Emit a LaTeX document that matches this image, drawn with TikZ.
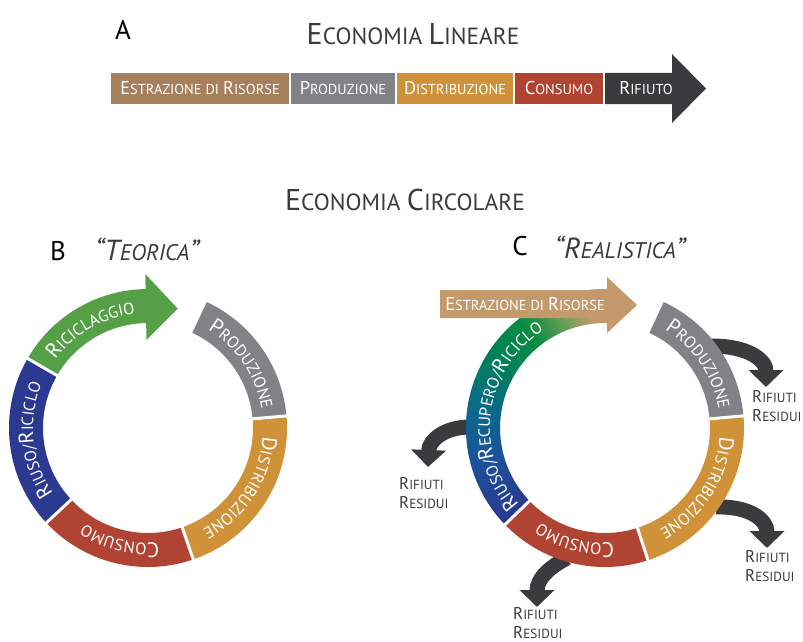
\documentclass[tikz,border=0pt]{standalone}
\usepackage{fontspec}
\setmainfont{PT Sans}
\usetikzlibrary{arrows.meta,decorations.text}

% palette
\definecolor{tanA}{RGB}{166,127,92}
\definecolor{tanC}{RGB}{196,154,108}
\definecolor{prodgrey}{RGB}{128,130,133}
\definecolor{distorange}{RGB}{208,146,56}
\definecolor{consred}{RGB}{176,67,50}
\definecolor{wastedark}{RGB}{59,59,61}
\definecolor{recgreen}{RGB}{85,160,70}
\definecolor{reuseblue}{RGB}{43,57,144}
\definecolor{titlegrey}{RGB}{58,58,58}
% blend stops for the recovery band
\definecolor{gA}{RGB}{43,57,144}
\definecolor{gB}{RGB}{28,80,155}
\definecolor{gC}{RGB}{10,105,140}
\definecolor{gD}{RGB}{0,128,90}
\definecolor{gE}{RGB}{10,140,65}
\definecolor{gF}{RGB}{110,160,90}
\definecolor{gG}{RGB}{196,154,108}

% smaller capitals for the small-caps look
\makeatletter
\newcommand\lc[1]{{\fontsize{\fpeval{0.78*\f@size}}{\fpeval{0.78*\f@size}}\selectfont #1}}
\makeatother
\newcommand\ringbig{\fontsize{21}{21}\selectfont}
\newcommand\ringsmall{\fontsize{16.4}{16.4}\selectfont}

\def\Rin{105}
\def\Rout{139}
\def\Rtext{115}

% one annular sector of the ring
\newcommand\ringpart[3]{%
  \fill[#1] (#2:\Rin) arc[start angle=#2,end angle=#3,radius=\Rin]
    -- (#3:\Rout) arc[start angle=#3,end angle=#2,radius=\Rout] -- cycle;}

% blended sector, drawn as thin slices from colour #3 to colour #4
\newcommand\ringblend[4]{%
  \pgfmathtruncatemacro\nlast{#1-#2-1}%
  \foreach \k in {0,...,\nlast}{%
    \pgfmathsetmacro\aa{#1-\k+0.2}%
    \pgfmathsetmacro\ab{#1-\k-1.2}%
    \pgfmathtruncatemacro\pp{100*(\k+0.5)/(#1-#2)}%
    \fill[#4!\pp!#3] (\aa:\Rin) arc[start angle=\aa,end angle=\ab,radius=\Rin]
      -- (\ab:\Rout) arc[start angle=\ab,end angle=\aa,radius=\Rout] -- cycle;
  }}

% text set along a clockwise arc centred on angle #1
\newcommand\ringlabel[2]{%
  \path[decorate,decoration={text along path,text align=center,text color=white,
      text={#2}}]
    ({#1+80}:\Rtext) arc[start angle={#1+80},end angle={#1-80},radius=\Rtext];}

\tikzset{
  title/.style={text=titlegrey,font=\fontsize{30}{30}\selectfont,inner sep=0pt},
  panel/.style={text=black,font=\fontsize{27}{27}\selectfont,inner sep=0pt},
  subtitle/.style={text=titlegrey,font=\fontsize{29}{29}\selectfont\itshape,inner sep=0pt},
  barseg/.style={minimum height=31pt,inner sep=0pt,text=white,
    font=\fontsize{18.5}{18.5}\selectfont},
  bartext/.style={inner sep=0pt,text=white,font=\fontsize{18.5}{18.5}\selectfont},
  waste/.style={wastedark,line width=15pt,-{Triangle[length=17pt,width=34pt]}},
  wastelabel/.style={align=left,anchor=west,inner sep=0pt,text=titlegrey,
    font=\fontsize{17}{19}\selectfont},
  gap/.style={white,line width=3pt}
}

\begin{document}
\begin{tikzpicture}[x=1pt,y=1pt]
\useasboundingbox (0,0) rectangle (803,-642);

% ---------- linear economy ----------
\node[panel] (pa) at (123,-30) {A};
\node[title] (lin) at (413,-34) {E\lc{CONOMIA }L\lc{INEARE}};

\node[barseg,fill=tanA,minimum width=178pt] (estr) at (200,-88.5) {E\lc{STRAZIONE DI }R\lc{ISORSE}};
\node[barseg,fill=prodgrey,minimum width=104pt] (prod) at (343,-88.5) {P\lc{RODUZIONE}};
\node[barseg,fill=distorange,minimum width=116pt] (dist) at (455,-88.5) {D\lc{ISTRIBUZIONE}};
\node[barseg,fill=consred,minimum width=88pt] (cons) at (559,-88.5) {C\lc{ONSUMO}};
\fill[wastedark] (605,-73) -- (672,-73) -- (672,-54) -- (706,-88.5) -- (672,-123)
  -- (672,-104) -- (605,-104) -- cycle;
\node[bartext] (rif) at (646,-88.5) {R\lc{IFIUTO}};

% ---------- circular economy ----------
\node[title] (circ) at (405,-200) {E\lc{CONOMIA }C\lc{IRCOLARE}};

% ---- B: theoretical loop ----
\node[panel] (pb) at (58,-251) {B};
\node[subtitle] (teo) at (147,-249) {“T\lc{EORICA}”};

\begin{scope}[shift={(148,-428)}]
  \ringpart{reuseblue}{223}{150}
  \fill[recgreen] (150:\Rin) arc[start angle=150,end angle=91,radius=\Rin]
    -- (91:88) -- (76:123) -- (91:154) -- (91:\Rout)
    arc[start angle=91,end angle=150,radius=\Rout] -- cycle;
  \ringpart{prodgrey}{65}{5}
  \ringpart{distorange}{5}{-71}
  \ringpart{consred}{-71}{-137}
  \foreach \g in {150,5,-71,-137} \draw[gap] (\g:100) -- (\g:144);

  \ringlabel{120}{|\ringbig|R|\ringsmall|ICICLAGGIO}
  \ringlabel{34}{|\ringbig|P|\ringsmall|RODUZIONE}
  \ringlabel{-33}{|\ringbig|D|\ringsmall|ISTRIBUZIONE}
  \ringlabel{256}{|\ringbig|C|\ringsmall|ONSUMO}
  \ringlabel{186}{|\ringbig|R|\ringsmall|IUSO/|\ringbig|R|\ringsmall|ICICLO}
\end{scope}

% ---- C: realistic loop ----
\node[panel] (pc) at (520,-246) {C};
\node[subtitle] (rea) at (620,-247) {“R\lc{EALISTICA}”};

% residual waste leaving the loop
\coordinate (w1s) at (712,-346);  \coordinate (w1e) at (766,-387);
\coordinate (w2s) at (470,-427);  \coordinate (w2e) at (428,-467);
\coordinate (w3s) at (716,-507);  \coordinate (w3e) at (767,-548);
\coordinate (w4s) at (567,-558);  \coordinate (w4e) at (537,-607);
\draw[waste] (w1s) .. controls (748,-346) and (766,-360) .. (w1e);
\draw[waste] (w2s) .. controls (445,-427) and (429,-440) .. (w2e);
\draw[waste] (w3s) .. controls (750,-506) and (767,-520) .. (w3e);
\draw[waste] (w4s) .. controls (550,-567) and (537,-578) .. (w4e);

\node[wastelabel] (r1) at (752,-406.5) {R\lc{IFIUTI}\\R\lc{ESIDUI}};
\node[wastelabel] (r2) at (399,-493) {R\lc{IFIUTI}\\R\lc{ESIDUI}};
\node[wastelabel] (r3) at (745,-566) {R\lc{IFIUTI}\\R\lc{ESIDUI}};
\node[wastelabel] (r4) at (513,-623) {R\lc{IFIUTI}\\R\lc{ESIDUI}};

\begin{scope}[shift={(605,-428)}]
  \ringblend{224}{196}{gA}{gB}
  \ringblend{196}{172}{gB}{gC}
  \ringblend{172}{148}{gC}{gD}
  \ringblend{148}{128}{gD}{gE}
  \ringblend{128}{110}{gE}{gF}
  \ringblend{110}{96}{gF}{gG}
  \ringblend{96}{84}{gG}{gG}
  \ringpart{prodgrey}{65}{5}
  \ringpart{distorange}{5}{-72}
  \ringpart{consred}{-72}{-136}
  \foreach \g in {5,-72,-136} \draw[gap] (\g:100) -- (\g:144);

  \ringlabel{34}{|\ringbig|P|\ringsmall|RODUZIONE}
  \ringlabel{-33}{|\ringbig|D|\ringsmall|ISTRIBUZIONE}
  \ringlabel{255}{|\ringbig|C|\ringsmall|ONSUMO}
  \ringlabel{172}{|\ringbig|R|\ringsmall|IUSO/|\ringbig|R|\ringsmall|ECUPERO/|\ringbig|R|\ringsmall|ICICLO}
\end{scope}

% raw material input
\fill[tanC] (440,-290) -- (607,-290) -- (607,-277) -- (637,-305) -- (607,-333)
  -- (607,-318) -- (440,-318) -- cycle;
\node[bartext] (estrc) at (525,-304) {E\lc{STRAZIONE DI }R\lc{ISORSE}};
\end{tikzpicture}
\end{document}
